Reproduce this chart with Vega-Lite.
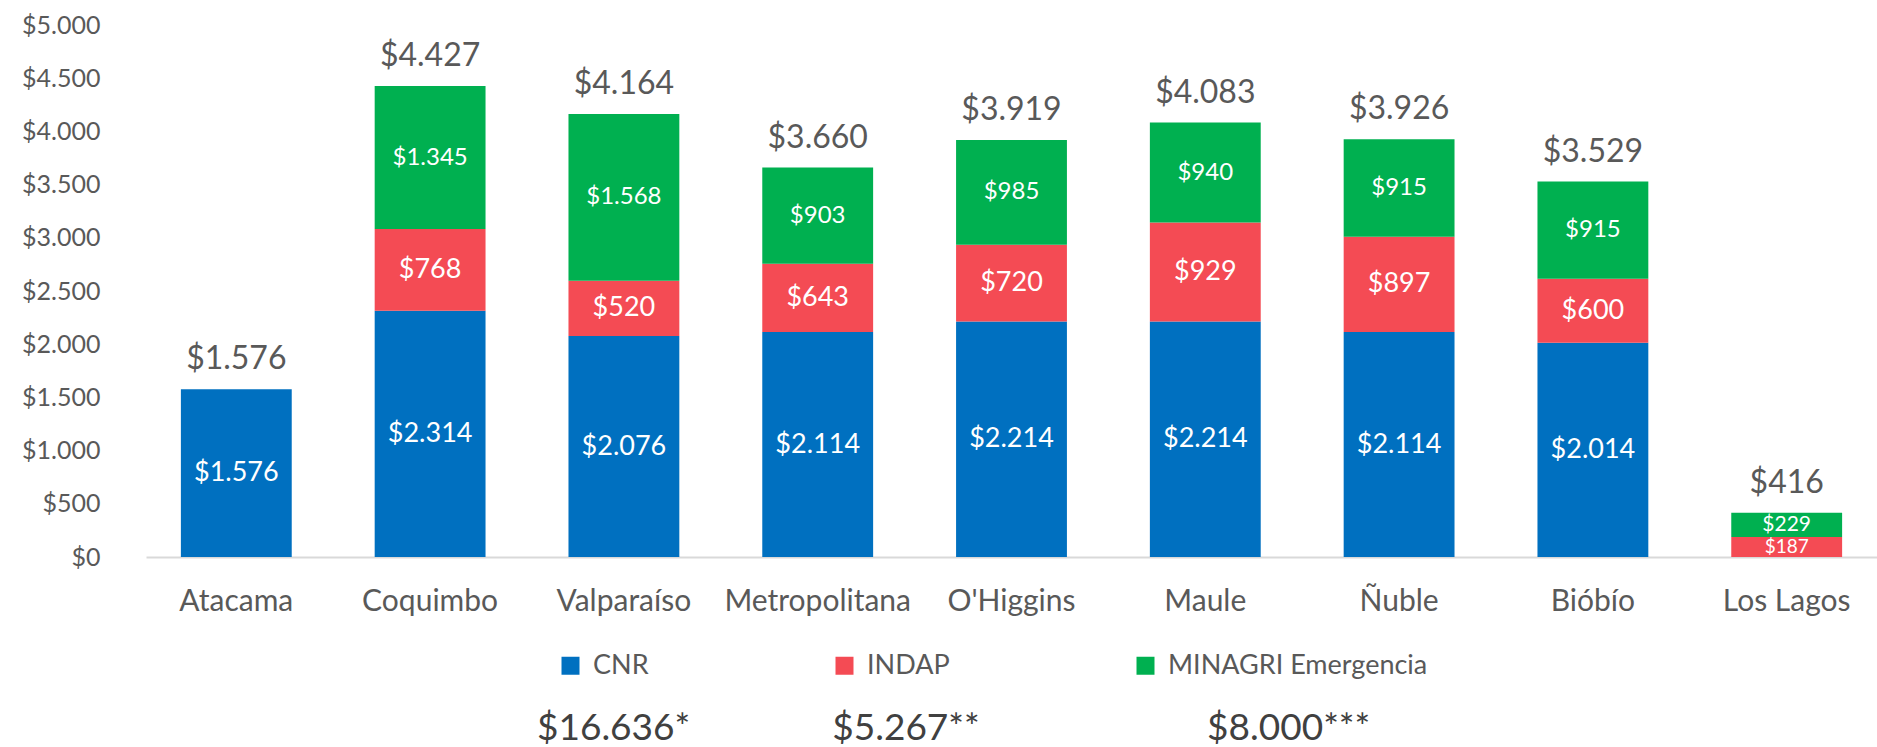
{
  "$schema": "https://vega.github.io/schema/vega-lite/v6.json",
  "width": 1731,
  "height": 532,
  "autosize": {"type": "none"},
  "padding": {"left": 146, "top": 25, "right": 0, "bottom": 190},
  "background": "white",
  "config": {
    "locale": {"number": {"decimal": ",", "thousands": ".", "grouping": [3], "currency": ["$", ""]}},
    "font": "Lato",
    "view": {"stroke": null}
  },
  "title": {
    "text": "$16.636*\u00a0\u00a0\u00a0\u00a0\u00a0\u00a0\u00a0\u00a0\u00a0\u00a0\u00a0\u00a0\u00a0\u00a0\u00a0$5.267**\u00a0\u00a0\u00a0\u00a0\u00a0\u00a0\u00a0\u00a0\u00a0\u00a0\u00a0\u00a0\u00a0\u00a0\u00a0\u00a0\u00a0\u00a0\u00a0\u00a0\u00a0\u00a0\u00a0\u00a0$8.000***",
    "orient": "bottom",
    "anchor": "start",
    "frame": "group",
    "dx": 391,
    "offset": 32,
    "font": "Lato",
    "fontSize": 37,
    "fontWeight": "normal",
    "color": "#404040"
  },
  "data": {
    "values": [
      {"region": "Atacama", "program": "CNR", "value": 1576},
      {"region": "Coquimbo", "program": "CNR", "value": 2314},
      {"region": "Coquimbo", "program": "INDAP", "value": 768},
      {"region": "Coquimbo", "program": "MINAGRI Emergencia", "value": 1345},
      {"region": "Valparaíso", "program": "CNR", "value": 2076},
      {"region": "Valparaíso", "program": "INDAP", "value": 520},
      {"region": "Valparaíso", "program": "MINAGRI Emergencia", "value": 1568},
      {"region": "Metropolitana", "program": "CNR", "value": 2114},
      {"region": "Metropolitana", "program": "INDAP", "value": 643},
      {"region": "Metropolitana", "program": "MINAGRI Emergencia", "value": 903},
      {"region": "O'Higgins", "program": "CNR", "value": 2214},
      {"region": "O'Higgins", "program": "INDAP", "value": 720},
      {"region": "O'Higgins", "program": "MINAGRI Emergencia", "value": 985},
      {"region": "Maule", "program": "CNR", "value": 2214},
      {"region": "Maule", "program": "INDAP", "value": 929},
      {"region": "Maule", "program": "MINAGRI Emergencia", "value": 940},
      {"region": "Ñuble", "program": "CNR", "value": 2114},
      {"region": "Ñuble", "program": "INDAP", "value": 897},
      {"region": "Ñuble", "program": "MINAGRI Emergencia", "value": 915},
      {"region": "Bióbío", "program": "CNR", "value": 2014},
      {"region": "Bióbío", "program": "INDAP", "value": 600},
      {"region": "Bióbío", "program": "MINAGRI Emergencia", "value": 915},
      {"region": "Los Lagos", "program": "INDAP", "value": 187},
      {"region": "Los Lagos", "program": "MINAGRI Emergencia", "value": 229}
    ]
  },
  "transform": [
    {"stack": "value", "groupby": ["region"], "sort": [{"field": "program", "order": "ascending"}], "as": ["v0", "v1"]}
  ],
  "encoding": {
    "x": {
      "field": "region",
      "type": "nominal",
      "sort": ["Atacama", "Coquimbo", "Valparaíso", "Metropolitana", "O'Higgins", "Maule", "Ñuble", "Bióbío", "Los Lagos"],
      "scale": {"paddingInner": 0.428, "paddingOuter": 0.18},
      "axis": {
        "title": null,
        "labelAngle": 0,
        "labelFont": "Lato",
        "labelFontSize": 30,
        "labelColor": "#595959",
        "labelBaseline": "middle",
        "labelPadding": 44,
        "labelLimit": 400,
        "ticks": false,
        "tickSize": 0,
        "domainColor": "#d9d9d9",
        "domainWidth": 2,
        "grid": false
      }
    }
  },
  "layer": [
    {
      "mark": {"type": "bar"},
      "encoding": {
        "y": {
          "field": "v0",
          "type": "quantitative",
          "scale": {"domain": [0, 5000]},
          "axis": {
            "title": null,
            "values": [0, 500, 1000, 1500, 2000, 2500, 3000, 3500, 4000, 4500, 5000],
            "format": "$,.0f",
            "labelFont": "Lato",
            "labelFontSize": 25,
            "labelColor": "#595959",
            "labelPadding": 46,
            "ticks": false,
            "tickSize": 0,
            "domain": false,
            "grid": false
          }
        },
        "y2": {"field": "v1"},
        "color": {
          "field": "program",
          "type": "nominal",
          "scale": {"domain": ["CNR", "INDAP", "MINAGRI Emergencia"], "range": ["#0070C0", "#F44B54", "#00B050"]},
          "legend": {
            "title": null,
            "orient": "none",
            "legendX": 411,
            "legendY": 627,
            "direction": "horizontal",
            "columns": 3,
            "columnPadding": 182,
            "padding": 0,
            "symbolType": "square",
            "symbolSize": 324,
            "symbolStrokeWidth": 0,
            "labelOffset": 9,
            "labelLimit": 400,
            "labelExpr": "datum.label == 'INDAP' ? '\u00a0INDAP' : datum.label",
            "labelFont": "Lato",
            "labelFontSize": 27,
            "labelColor": "#595959"
          }
        }
      }
    },
    {
      "transform": [
        {"fold": ["v0", "v1"], "as": ["edge", "pos"]},
        {"aggregate": [{"op": "mean", "field": "pos", "as": "mid"}, {"op": "max", "field": "value", "as": "value"}], "groupby": ["region", "program"]}
      ],
      "mark": {"type": "text", "color": "white", "baseline": "middle", "align": "center", "font": "Lato"},
      "encoding": {
        "y": {"field": "mid", "type": "quantitative"},
        "text": {"field": "value", "type": "quantitative", "format": "$,.0f"},
        "size": {
          "condition": [
            {"test": "datum.value < 200", "value": 19},
            {"test": "datum.value < 300", "value": 21},
            {"test": "datum.program === 'MINAGRI Emergencia'", "value": 24}
          ],
          "value": 27
        }
      }
    },
    {
      "transform": [
        {"aggregate": [{"op": "sum", "field": "value", "as": "total"}], "groupby": ["region"]}
      ],
      "mark": {"type": "text", "color": "#595959", "baseline": "alphabetic", "align": "center", "dy": -20, "fontSize": 32, "font": "Lato"},
      "encoding": {
        "y": {"field": "total", "type": "quantitative"},
        "text": {"field": "total", "type": "quantitative", "format": "$,.0f"}
      }
    }
  ]
}
